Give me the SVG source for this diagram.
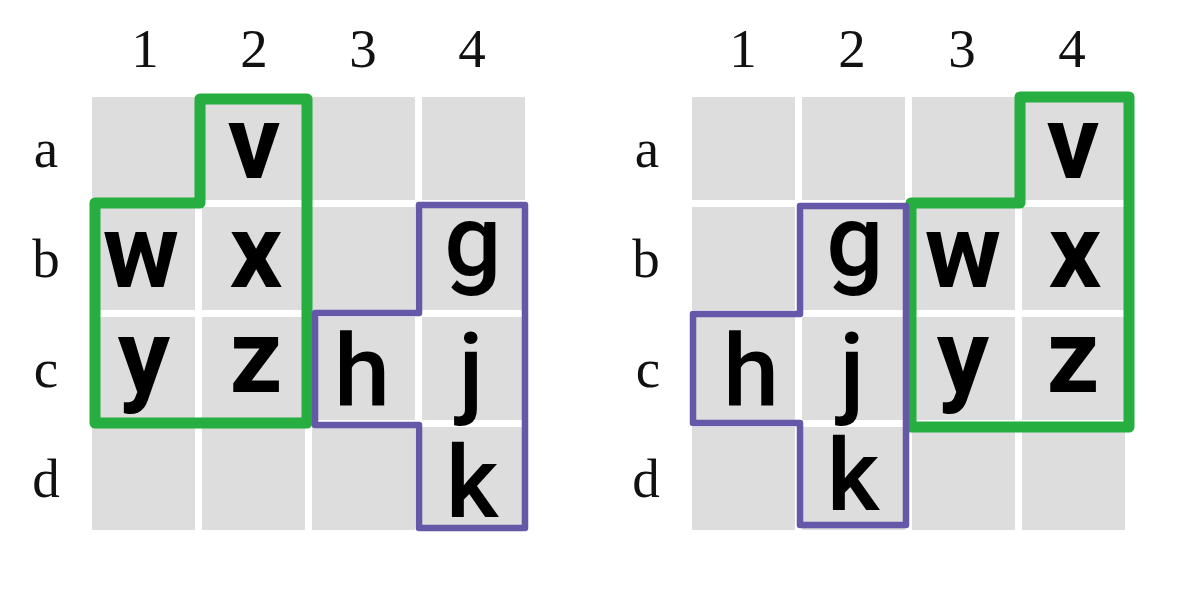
<svg xmlns="http://www.w3.org/2000/svg" width="1200" height="600" viewBox="0 0 1200 600">
<style>
.cell{fill:#dddddd}
.lbl{font-family:"Liberation Serif","Times New Roman",serif;font-size:55px;fill:#111;text-anchor:middle}
.gl{font-family:Roboto,"Liberation Sans",sans-serif;font-size:104px;font-weight:700;fill:#000;text-anchor:middle}
.pl{font-family:Roboto,"Liberation Sans",sans-serif;font-size:101px;font-weight:500;fill:#000;text-anchor:middle}
.green{fill:none;stroke:#27ae40;stroke-width:11;stroke-linejoin:round}
.purple{fill:none;stroke:#6658a8;stroke-width:6.5;stroke-linejoin:round}
</style>
<rect width="1200" height="600" fill="#ffffff"/>
<defs>
<g id="grid">
<rect class="cell" x="0" y="0" width="103" height="103"/>
<rect class="cell" x="110" y="0" width="103" height="103"/>
<rect class="cell" x="220" y="0" width="103" height="103"/>
<rect class="cell" x="330" y="0" width="103" height="103"/>
<rect class="cell" x="0" y="110" width="103" height="103"/>
<rect class="cell" x="110" y="110" width="103" height="103"/>
<rect class="cell" x="220" y="110" width="103" height="103"/>
<rect class="cell" x="330" y="110" width="103" height="103"/>
<rect class="cell" x="0" y="220" width="103" height="103"/>
<rect class="cell" x="110" y="220" width="103" height="103"/>
<rect class="cell" x="220" y="220" width="103" height="103"/>
<rect class="cell" x="330" y="220" width="103" height="103"/>
<rect class="cell" x="0" y="330" width="103" height="103"/>
<rect class="cell" x="110" y="330" width="103" height="103"/>
<rect class="cell" x="220" y="330" width="103" height="103"/>
<rect class="cell" x="330" y="330" width="103" height="103"/>
</g>
</defs>
<g id="left-board">
<use href="#grid" x="92" y="97"/>
<text class="lbl" x="145" y="67">1</text>
<text class="lbl" x="254" y="67">2</text>
<text class="lbl" x="363" y="67">3</text>
<text class="lbl" x="472" y="67">4</text>
<text class="lbl" x="46" y="167">a</text>
<text class="lbl" x="46" y="277">b</text>
<text class="lbl" x="46" y="387">c</text>
<text class="lbl" x="46" y="497">d</text>
</g>
<g id="right-board">
<use href="#grid" x="692" y="97"/>
<text class="lbl" x="743" y="67">1</text>
<text class="lbl" x="852" y="67">2</text>
<text class="lbl" x="962" y="67">3</text>
<text class="lbl" x="1072" y="67">4</text>
<text class="lbl" x="647" y="167">a</text>
<text class="lbl" x="646" y="277">b</text>
<text class="lbl" x="648" y="387">c</text>
<text class="lbl" x="646" y="497">d</text>
</g>
<g id="connectors">
<path class="green" d="M200,99 H307 V423 H95 V203 H200 Z"/>
<path class="purple" d="M419,205 H525 V528 H419 V425 H315 V313 H419 Z"/>
<path class="green" d="M1020,97 H1129 V427 H911 V203 H1020 Z"/>
<path class="purple" d="M800,206 H906 V525 H800 V423 H693 V314 H800 Z"/>
</g>
<g id="left-piece-green">
<text class="gl" x="254" y="178">v</text>
<text class="gl" x="141" y="287">w</text>
<text class="gl" x="256" y="287">x</text>
<text class="gl" x="144" y="392">y</text>
<text class="gl" x="256" y="392">z</text>
</g>
<g id="left-piece-purple">
<text class="pl" x="473" y="275">g</text>
<text class="pl" x="362" y="405">h</text>
<text class="pl" x="471" y="405">j</text>
<text class="pl" x="472" y="517">k</text>
</g>
<g id="right-piece-green">
<text class="gl" x="1073" y="178">v</text>
<text class="gl" x="963" y="287">w</text>
<text class="gl" x="1075" y="287">x</text>
<text class="gl" x="963" y="392">y</text>
<text class="gl" x="1073" y="392">z</text>
</g>
<g id="right-piece-purple">
<text class="pl" x="855" y="275">g</text>
<text class="pl" x="751" y="405">h</text>
<text class="pl" x="852" y="405">j</text>
<text class="pl" x="853" y="510">k</text>
</g>
</svg>
